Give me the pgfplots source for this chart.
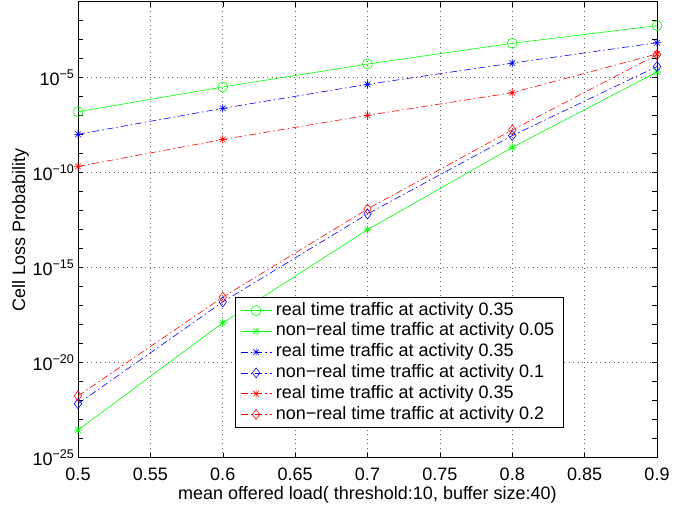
\documentclass[border=0pt]{standalone}
\usepackage{fontspec}
\setmainfont{Liberation Sans}
\usepackage{pgfplots}
\pgfplotsset{compat=1.18}

% MATLAB style asterisk: plus and cross
\pgfdeclareplotmark{mstar}{%
  \pgfpathmoveto{\pgfqpoint{-\pgfplotmarksize}{0pt}}%
  \pgfpathlineto{\pgfqpoint{\pgfplotmarksize}{0pt}}%
  \pgfpathmoveto{\pgfqpoint{0pt}{-\pgfplotmarksize}}%
  \pgfpathlineto{\pgfqpoint{0pt}{\pgfplotmarksize}}%
  \pgfpathmoveto{\pgfqpoint{-0.707\pgfplotmarksize}{-0.707\pgfplotmarksize}}%
  \pgfpathlineto{\pgfqpoint{0.707\pgfplotmarksize}{0.707\pgfplotmarksize}}%
  \pgfpathmoveto{\pgfqpoint{-0.707\pgfplotmarksize}{0.707\pgfplotmarksize}}%
  \pgfpathlineto{\pgfqpoint{0.707\pgfplotmarksize}{-0.707\pgfplotmarksize}}%
  \pgfusepathqstroke}

\definecolor{mgreen}{rgb}{0,1,0}
\definecolor{mblue}{rgb}{0,0,1}
\definecolor{mred}{rgb}{1,0,0}

\tikzset{mdashdot/.style={dash pattern=on 7bp off 3bp on 1.5bp off 3bp}}

\begin{document}
\begin{tikzpicture}
\begin{axis}[
    scale only axis,
    width=579bp, height=456bp,
    ymode=log,
    xmin=0.5, xmax=0.9,
    ymin=1e-25, ymax=1e-1,
    xtick={0.5,0.55,0.6,0.65,0.7,0.75,0.8,0.85,0.9},
    xticklabels={0.5,0.55,0.6,0.65,0.7,0.75,0.8,0.85,0.9},
    ytick={1e-25,1e-20,1e-15,1e-10,1e-5},
    yticklabels={10\textsuperscript{−25},10\textsuperscript{−20},10\textsuperscript{−15},10\textsuperscript{−10},10\textsuperscript{−5}},
    minor ytick={1e-24,1e-23,1e-22,1e-21,1e-19,1e-18,1e-17,1e-16,1e-14,1e-13,1e-12,1e-11,1e-9,1e-8,1e-7,1e-6,1e-4,1e-3,1e-2},
    tick align=inside,
    major tick length=5bp,
    minor tick length=5bp,
    tick style={black, line width=0.5bp},
    axis line style={black, line width=0.8bp},
    grid=major,
    major grid style={black!60, dash pattern=on 1bp off 3.5bp, line width=0.6bp},
    tick label style={font=\fontsize{18bp}{20bp}\selectfont},
    xticklabel style={inner ysep=1bp, yshift=-9bp},
    label style={font=\fontsize{18bp}{20bp}\selectfont},
    xlabel={mean offered load( threshold:10, buffer size:40)},
    ylabel={Cell Loss Probability},
    xlabel style={inner ysep=1bp, yshift=-4bp},
    ylabel style={yshift=-3bp},
    every axis plot/.append style={line width=0.6bp},
    legend image code/.code={%
      \draw[mark repeat=2,mark phase=2] plot coordinates {(0bp,0bp) (15.5bp,0bp) (31bp,0bp)};},
    legend cell align=left,
    legend style={
      at={(0.271,0.352)}, anchor=north west,
      draw=black, line width=0.8bp, fill=white,
      font=\fontsize{18bp}{20bp}\selectfont,
      inner xsep=5bp, inner ysep=2.5bp,
      nodes={text height=13bp, text depth=3.8bp, inner ysep=2bp, inner xsep=4bp},
    },
]

\addplot[mgreen, solid, mark=o, mark size=5bp, mark options={solid}] coordinates {
  (0.5,1.62e-7) (0.6,3.24e-6) (0.7,5.25e-5) (0.8,6.46e-4) (0.9,5.50e-3)
};
\addlegendentry{real time traffic at activity 0.35}

\addplot[mgreen, solid, mark=mstar, mark size=4bp, mark options={solid}] coordinates {
  (0.5,2.88e-24) (0.6,1.26e-18) (0.7,1.0e-13) (0.8,2.14e-9) (0.9,2.0e-5)
};
\addlegendentry{non−real time traffic at activity 0.05}

\addplot[mblue, mdashdot, mark=mstar, mark size=4bp, mark options={solid}] coordinates {
  (0.5,1.05e-8) (0.6,2.45e-7) (0.7,4.47e-6) (0.8,5.89e-5) (0.9,6.92e-4)
};
\addlegendentry{real time traffic at activity 0.35}

\addplot[mblue, mdashdot, mark=diamond, mark size=5bp, mark options={solid}] coordinates {
  (0.5,6.92e-23) (0.6,1.58e-17) (0.7,6.76e-13) (0.8,8.91e-9) (0.9,3.89e-5)
};
\addlegendentry{non−real time traffic at activity 0.1}

\addplot[mred, mdashdot, mark=mstar, mark size=4bp, mark options={solid}] coordinates {
  (0.5,2.14e-10) (0.6,5.62e-9) (0.7,1.05e-7) (0.8,1.62e-6) (0.9,1.78e-4)
};
\addlegendentry{real time traffic at activity 0.35}

\addplot[mred, mdashdot, mark=diamond, mark size=5bp, mark options={solid}] coordinates {
  (0.5,1.78e-22) (0.6,2.82e-17) (0.7,1.23e-12) (0.8,1.78e-8) (0.9,1.62e-4)
};
\addlegendentry{non−real time traffic at activity 0.2}

\end{axis}
\pgfresetboundingbox
\path[use as bounding box] ([shift={(-78bp,-48.3bp)}]current axis.south west) rectangle ([shift={(29bp,1.7bp)}]current axis.north east);
\end{tikzpicture}
\end{document}
